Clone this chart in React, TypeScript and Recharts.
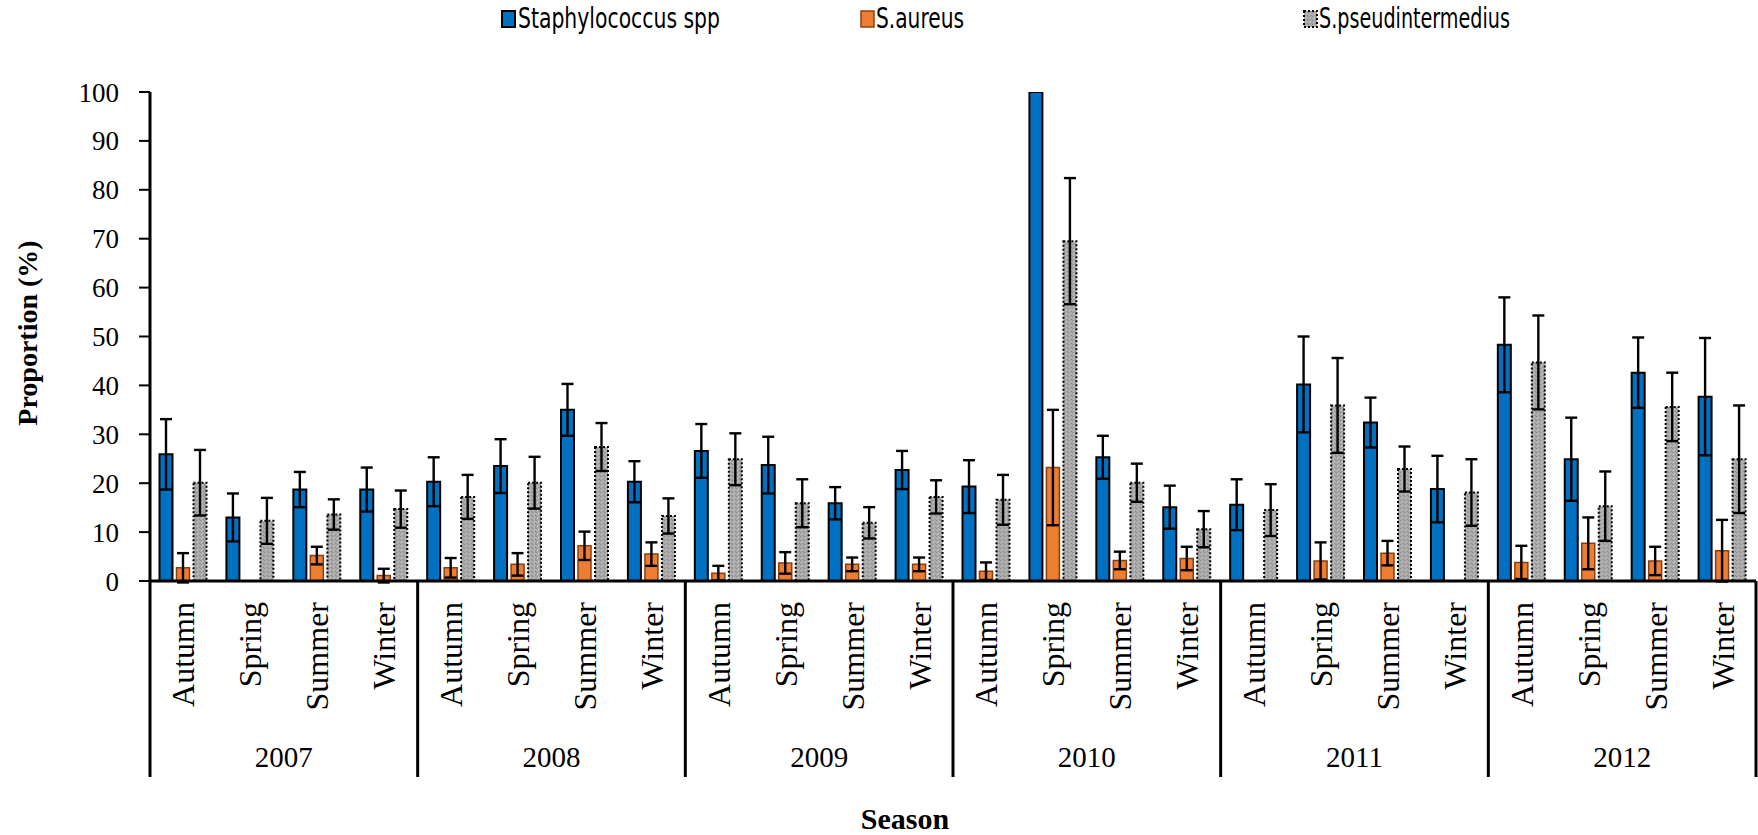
import React from 'react';
import { BarChart, Bar, XAxis, YAxis, ErrorBar } from 'recharts';

const years = ['2007', '2008', '2009', '2010', '2011', '2012'];
const seasons = ['Autumn', 'Spring', 'Summer', 'Winter'];

const staphValues = [
  25.9, 13.0, 18.7, 18.7,
  20.3, 23.5, 35.0, 20.3,
  26.6, 23.7, 15.9, 22.7,
  19.3, 100, 25.3, 15.1,
  15.6, 40.2, 32.4, 18.8,
  48.3, 24.9, 42.6, 37.7,
];
const staphErrors = [
  7.2, 4.9, 3.6, 4.5,
  5.0, 5.5, 5.3, 4.2,
  5.5, 5.8, 3.3, 3.9,
  5.4, 0, 4.4, 4.4,
  5.2, 9.8, 5.1, 6.8,
  9.7, 8.5, 7.2, 12.0,
];
const aureusValues = [
  2.7, 0, 5.2, 1.1,
  2.7, 3.4, 7.2, 5.5,
  1.6, 3.7, 3.4, 3.4,
  2.0, 23.2, 4.2, 4.6,
  0, 4.1, 5.7, 0,
  3.8, 7.7, 4.1, 6.2,
];
const aureusErrors = [
  3.0, 0, 1.8, 1.4,
  2.0, 2.3, 2.9, 2.4,
  1.5, 2.2, 1.4, 1.4,
  1.8, 11.8, 1.8, 2.4,
  0, 3.8, 2.5, 0,
  3.4, 5.3, 2.9, 6.3,
];
const pseudValues = [
  20.1, 12.3, 13.6, 14.7,
  17.2, 20.1, 27.4, 13.3,
  24.9, 15.9, 11.9, 17.2,
  16.6, 69.5, 20.1, 10.6,
  14.5, 35.9, 22.9, 18.1,
  44.7, 15.3, 35.6, 24.9,
];
const pseudErrors = [
  6.7, 4.7, 3.1, 3.8,
  4.5, 5.3, 4.9, 3.6,
  5.3, 4.9, 3.2, 3.4,
  5.1, 12.9, 3.9, 3.7,
  5.3, 9.7, 4.6, 6.8,
  9.6, 7.1, 7.0, 11.0,
];
const yTicks = [0, 10, 20, 30, 40, 50, 60, 70, 80, 90, 100];
const seriesNames = ['Staphylococcus spp', 'S.aureus', 'S.pseudintermedius'];

const data = years.flatMap((year, yi) =>
  seasons.map((season, si) => {
    const i = yi * seasons.length + si;
    return {
      key: `${year}-${season}`,
      year,
      season,
      staph: staphValues[i],
      staphErr: staphErrors[i],
      aureus: aureusValues[i],
      aureusErr: aureusErrors[i],
      pseud: pseudValues[i],
      pseudErr: pseudErrors[i],
    };
  })
);

const SERIF = "'Liberation Serif', 'Times New Roman', serif";
const NARROW = "'Liberation Sans Narrow', 'DejaVu Sans Condensed', 'Liberation Sans', sans-serif";
const SEASON_AXIS_H = 130;
const YEAR_AXIS_H = 66;

const SeasonTick = (props: any) => {
  const { x, y, payload } = props;
  const label = String(payload.value).split('-')[1];
  return (
    <text
      x={x}
      y={y}
      transform={`rotate(-90 ${x} ${y})`}
      textAnchor="end"
      dominantBaseline="central"
      fontFamily={SERIF}
      fontSize={32}
      fill="#000"
    >
      {label}
    </text>
  );
};

const YearTick = (props: any) => {
  const { x, y, payload, index, visibleTicksCount, width } = props;
  const half =
    payload && payload.offset > 0 ? payload.offset : Number(width) / visibleTicksCount / 2;
  const top = y - SEASON_AXIS_H;
  const bottom = y + YEAR_AXIS_H;
  return (
    <g>
      <line x1={x - half} x2={x - half} y1={top} y2={bottom} stroke="#000" strokeWidth={3} />
      {index === visibleTicksCount - 1 && (
        <line x1={x + half} x2={x + half} y1={top} y2={bottom} stroke="#000" strokeWidth={3} />
      )}
      <text
        x={x}
        y={y + 46}
        textAnchor="middle"
        dominantBaseline="central"
        fontFamily={SERIF}
        fontSize={29}
        fill="#000"
      >
        {payload.value}
      </text>
    </g>
  );
};

export default function App() {
  return (
    <div style={{ position: 'absolute', left: 0, top: 0, width: 1758, height: 835, background: '#fff' }}>
      <svg width={0} height={0} style={{ position: 'absolute' }}>
        <defs>
          <pattern id="grayTex" width="4" height="4" patternUnits="userSpaceOnUse">
            <rect width="4" height="4" fill="#a8a8a8" />
            <rect x="0" y="0" width="1" height="1" fill="#8e8e8e" />
            <rect x="2" y="1" width="1" height="1" fill="#c2c2c2" />
            <rect x="1" y="2" width="1" height="1" fill="#c0c0c0" />
            <rect x="3" y="3" width="1" height="1" fill="#909090" />
          </pattern>
        </defs>
      </svg>
      <BarChart
        width={1758}
        height={835}
        data={data}
        margin={{ top: 92, right: 2, left: 60, bottom: 58 }}
        barCategoryGap={9.5}
        barGap={4}
      >
        <XAxis
          dataKey="key"
          xAxisId={0}
          height={SEASON_AXIS_H}
          interval={0}
          tickLine={false}
          tickSize={0}
          tickMargin={21}
          axisLine={{ stroke: '#000', strokeWidth: 3 }}
          tick={<SeasonTick />}
        />
        <XAxis
          dataKey="year"
          xAxisId="year"
          allowDuplicatedCategory={false}
          height={YEAR_AXIS_H}
          interval={0}
          tickLine={false}
          tickSize={0}
          tickMargin={0}
          axisLine={false}
          tick={<YearTick />}
        />
        <YAxis
          width={90}
          domain={[0, 100]}
          allowDataOverflow
          ticks={yTicks}
          interval={0}
          tickSize={11}
          tickMargin={20}
          axisLine={{ stroke: '#000', strokeWidth: 3 }}
          tickLine={{ stroke: '#000', strokeWidth: 2 }}
          tick={{ fill: '#000', fontFamily: SERIF, fontSize: 27 }}
        />
        <Bar dataKey="staph" xAxisId={0} fill="#0070C0" stroke="#000" strokeWidth={2} isAnimationActive={false}>
          <ErrorBar dataKey="staphErr" direction="y" width={6} stroke="#000" strokeWidth={2.4} isAnimationActive={false} />
        </Bar>
        <Bar dataKey="aureus" xAxisId={0} fill="#ED7D31" stroke="#8a3f10" strokeWidth={1.5} isAnimationActive={false}>
          <ErrorBar dataKey="aureusErr" direction="y" width={6} stroke="#000" strokeWidth={2.4} isAnimationActive={false} />
        </Bar>
        <Bar
          dataKey="pseud"
          xAxisId={0}
          fill="url(#grayTex)"
          stroke="#000"
          strokeWidth={2}
          strokeDasharray="2 2"
          isAnimationActive={false}
        >
          <ErrorBar dataKey="pseudErr" direction="y" width={6} stroke="#000" strokeWidth={2.4} isAnimationActive={false} />
        </Bar>
      </BarChart>
      <svg
        width={1758}
        height={835}
        style={{ position: 'absolute', left: 0, top: 0, pointerEvents: 'none' }}
      >
        <g>
          <rect x={502} y={11} width={13} height={16} fill="#0070C0" stroke="#000" strokeWidth={2} />
          <text x={518} y={28} fontFamily={NARROW} fontSize={28} textLength={202} lengthAdjust="spacingAndGlyphs" fill="#000">{seriesNames[0]}</text>
          <rect x={861} y={11} width={13} height={16} fill="#ED7D31" stroke="#8a3f10" strokeWidth={1.5} />
          <text x={876} y={28} fontFamily={NARROW} fontSize={28} textLength={88} lengthAdjust="spacingAndGlyphs" fill="#000">{seriesNames[1]}</text>
          <rect x={1304} y={11} width={13} height={16} fill="url(#grayTex)" stroke="#000" strokeWidth={2} strokeDasharray="2 2" />
          <text x={1319} y={28} fontFamily={NARROW} fontSize={28} textLength={191} lengthAdjust="spacingAndGlyphs" fill="#000">{seriesNames[2]}</text>
        </g>
        <text
          x={27}
          y={333}
          transform="rotate(-90 27 333)"
          textAnchor="middle"
          dominantBaseline="central"
          fontFamily={SERIF}
          fontWeight="bold"
          fontSize={28}
          fill="#000"
        >
          Proportion (%)
        </text>
        <text
          x={905}
          y={818}
          textAnchor="middle"
          dominantBaseline="central"
          fontFamily={SERIF}
          fontWeight="bold"
          fontSize={30}
          fill="#000"
        >
          Season
        </text>
      </svg>
    </div>
  );
}
